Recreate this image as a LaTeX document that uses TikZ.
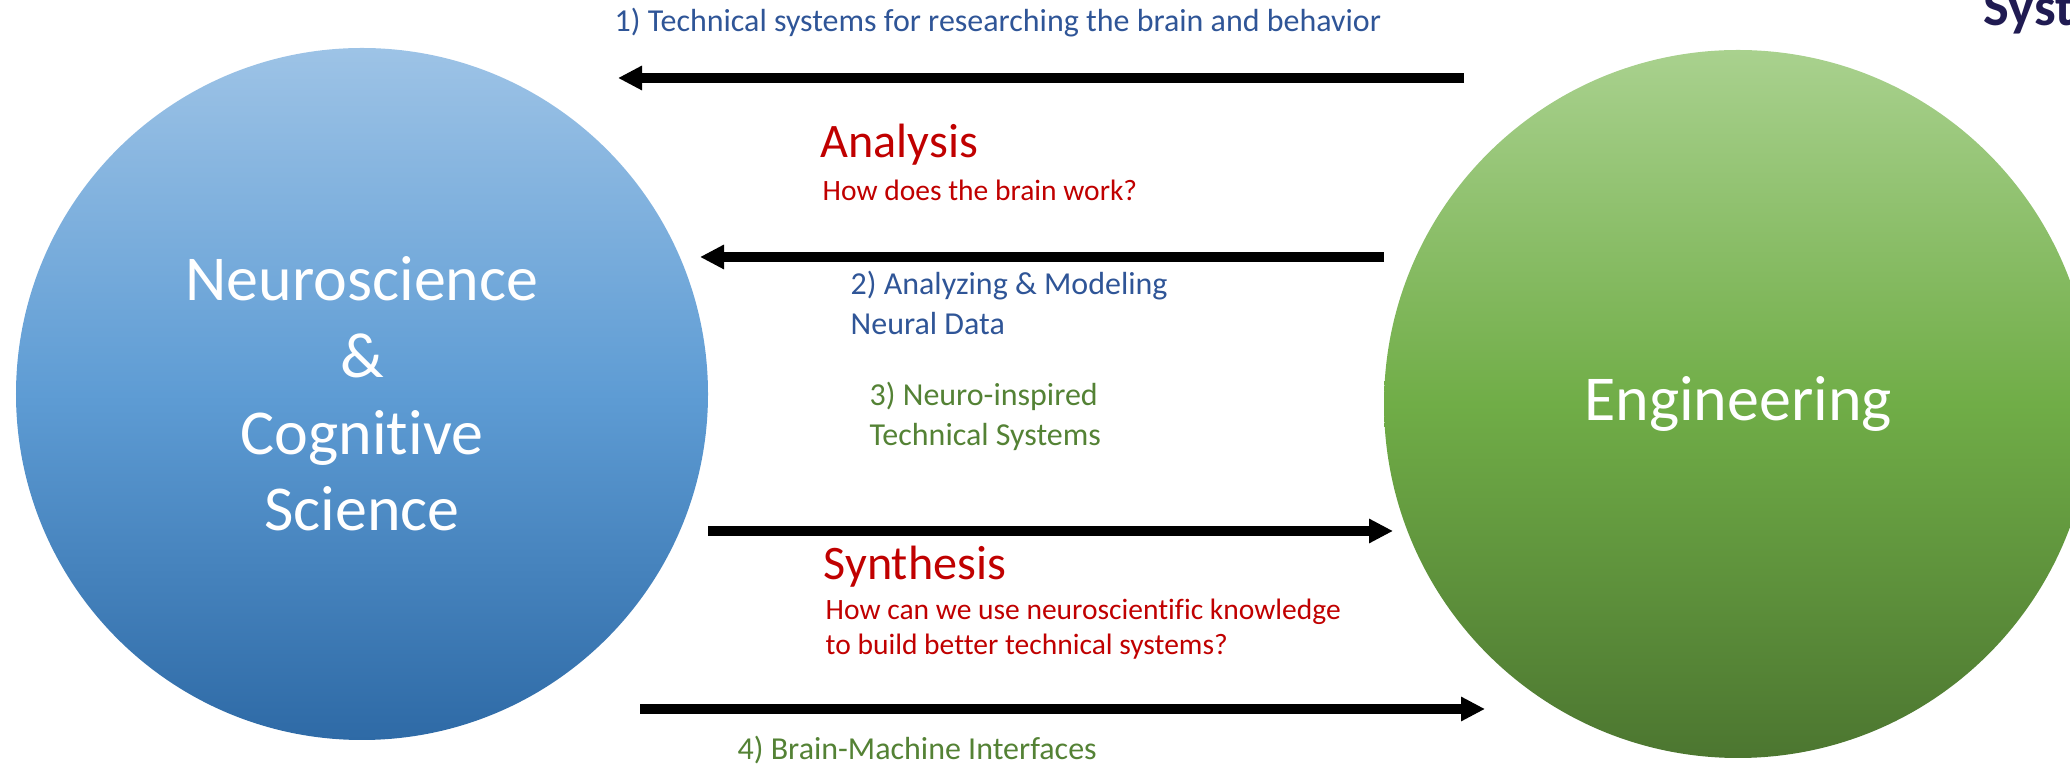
\documentclass[tikz,border=0pt]{standalone}
\usepackage{fontspec}
\setmainfont{Carlito}[Ligatures=NoCommon]
\usepackage{tikz}
\definecolor{neurotop}{RGB}{157,195,230}
\definecolor{neuromid}{RGB}{94,156,212}
\definecolor{neurobot}{RGB}{46,106,166}
\definecolor{engtop}{RGB}{169,209,142}
\definecolor{engmid}{RGB}{112,173,71}
\definecolor{engbot}{RGB}{76,118,48}
\definecolor{linkblue}{RGB}{47,85,151}
\definecolor{linkgreen}{RGB}{84,130,53}
\definecolor{askred}{RGB}{192,0,0}
\definecolor{logonavy}{RGB}{32,27,82}
\usetikzlibrary{arrows.meta, positioning}

\begin{document}
\begin{tikzpicture}[
    field/.style={circle, inner sep=0pt, align=center, text=white, font=\fontsize{18.2}{21.8}\selectfont},
    flow/.style={-{Triangle[length=0.24cm, width=0.23cm]}, line width=2.6pt},
    note/.style={anchor=base west, align=left, inner sep=0pt, font=\fontsize{9.1}{11.4}\selectfont},
    question/.style={anchor=base west, align=left, inner sep=0pt, text=askred, font=\fontsize{8.4}{10.2}\selectfont},
    heading/.style={anchor=base west, inner sep=0pt, text=askred, font=\fontsize{13.7}{16}\selectfont}
]
    \useasboundingbox (0,0) rectangle (20.70,-7.66);

    % the two fields
    \node[field, minimum size=6.92cm, top color=neurotop, bottom color=neurobot, middle color=neuromid] (neuro) at (3.62,-3.94) {Neuroscience\\\&\\Cognitive\\Science};
    \node[field, minimum size=7.08cm, top color=engtop, bottom color=engbot, middle color=engmid] (eng) at (17.38,-4.04) {Engineering};

    % cut-off title in the corner
    \node[anchor=base west, inner sep=0pt, text=logonavy, font=\fontsize{15.5}{18}\selectfont\bfseries] (logo) at (19.83,-0.26) {Syst};

    % arrow ends
    \coordinate (a1s) at (14.64,-0.78);
    \coordinate (a1e) at (6.18,-0.78);
    \coordinate (a2s) at (13.84,-2.57);
    \coordinate (a2e) at (7.00,-2.57);
    \coordinate (a3s) at (7.08,-5.31);
    \coordinate (a3e) at (13.93,-5.31);
    \coordinate (a4s) at (6.40,-7.09);
    \coordinate (a4e) at (14.85,-7.09);

    \draw[flow] (a1s) -- (a1e);
    \draw[flow] (a2s) -- (a2e);
    \draw[flow] (a3s) -- (a3e);
    \draw[flow] (a4s) -- (a4e);

    % Analysis side (base = last line)
    \node[note, text=linkblue] (tech) at (6.14,-0.32) {1) Technical systems for researching the brain and behavior};
    \node[heading] (analysis) at (8.20,-1.58) {Analysis};
    \node[question] (howbrain) at (8.22,-2.01) {How does the brain work?};
    \node[note, text=linkblue] (modeling) at (8.50,-3.35) {2) Analyzing \& Modeling\\Neural Data};
    \node[note, text=linkgreen] (inspired) at (8.69,-4.46) {3) Neuro-inspired\\Technical Systems};

    % Synthesis side
    \node[heading] (synthesis) at (8.23,-5.80) {Synthesis};
    \node[question] (howuse) at (8.25,-6.55) {How can we use neuroscientific knowledge\\to build better technical systems?};
    \node[note, text=linkgreen] (bmi) at (7.37,-7.60) {4) Brain-Machine Interfaces};
\end{tikzpicture}
\end{document}
